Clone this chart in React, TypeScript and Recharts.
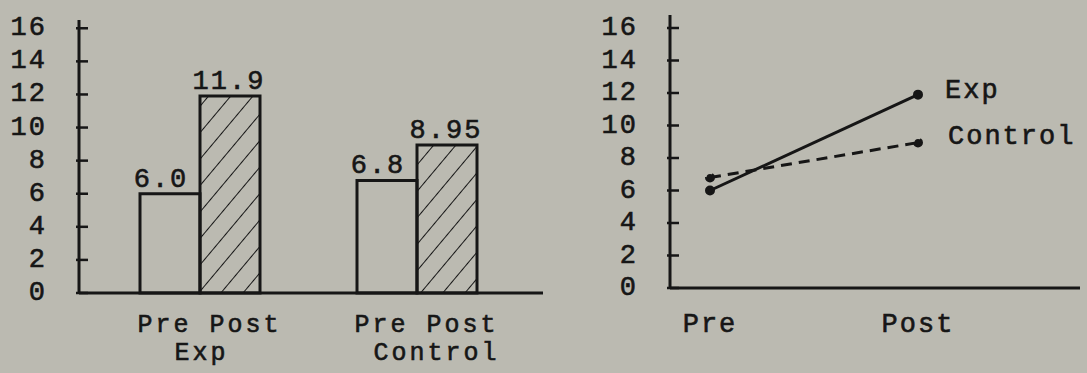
import { BarChart, Bar, LineChart, Line, XAxis, YAxis, LabelList } from "recharts";

const INK = "#161616";
const PAPER = "#bbbab1";
const FONT = "'Liberation Mono', 'DejaVu Sans Mono', monospace";

// left panel: pre/post means per group
const groups = ["Exp", "Control"];
const preScores = [6.0, 6.8];
const postScores = [11.9, 8.95];

// right panel: same means as lines
const phases = ["Pre", "Post"];
const expLine = [6.0, 11.9];
const controlLine = [6.8, 8.95];

const yTicks = [0, 2, 4, 6, 8, 10, 12, 14, 16];

const barData = groups.map((g, i) => ({ group: g, pre: preScores[i], post: postScores[i] }));
const lineData = phases.map((p, i) => ({ phase: p, exp: expLine[i], control: controlLine[i] }));

const TICK_GAP = 32;

const fmt = (v: number) => (v === Math.round(v) ? v.toFixed(1) : String(v));

const textStyle = {
  fontFamily: FONT,
  fontSize: 27,
  letterSpacing: 2,
  fill: INK,
  stroke: INK,
  strokeWidth: 0.6,
};
const smallText = { ...textStyle, fontSize: 25, letterSpacing: 3 };

function YTick(props: any) {
  const { x, y, payload } = props;
  const ax = x + TICK_GAP;
  return (
    <g>
      <line x1={ax - 3} x2={ax + 9} y1={y} y2={y} stroke={INK} strokeWidth={2.5} />
      <text x={x} y={y} textAnchor="end" dominantBaseline="central" style={textStyle}>
        {payload.value}
      </text>
    </g>
  );
}

function GroupTick(props: any) {
  const { x, y, payload } = props;
  return (
    <g>
      <text x={x + 10} y={y + 39} textAnchor="middle" style={smallText}>
        Pre Post
      </text>
      <text x={x + (payload.value === "Exp" ? 2 : 20)} y={y + 67} textAnchor="middle" style={smallText}>
        {payload.value}
      </text>
    </g>
  );
}

function PhaseTick(props: any) {
  const { x, y, payload } = props;
  return (
    <text x={x} y={y + 44} textAnchor="middle" style={textStyle}>
      {payload.value}
    </text>
  );
}

const barLabel = (dx: number) => (p: any) => (
  <text x={p.x + p.width / 2 + dx} y={p.y - 7} textAnchor="middle" style={textStyle}>
    {fmt(Number(p.value))}
  </text>
);

const endLabel = (name: string, dx: number, dy: number) => (p: any) =>
  p.index === 1 ? (
    <text x={p.x + dx} y={p.y + dy} dominantBaseline="central" style={textStyle}>
      {name}
    </text>
  ) : null;

export default function App() {
  return (
    <div style={{ position: "fixed", left: 0, top: 0, width: 1087, height: 373, background: PAPER }}>
      <div style={{ position: "absolute", left: 0, top: 0 }}>
        <BarChart
          width={560}
          height={373}
          data={barData}
          margin={{ top: 20, right: 17, bottom: 20, left: 7 }}
          barGap={0}
        >
          <defs>
            <pattern id="hatch" patternUnits="userSpaceOnUse" width={17} height={17} patternTransform="rotate(40)">
              <line x1={0} y1={0} x2={0} y2={17} stroke={INK} strokeWidth={2} />
            </pattern>
          </defs>
          <XAxis
            dataKey="group"
            height={60}
            padding={{ left: 12, right: 18 }}
            axisLine={{ stroke: INK, strokeWidth: 3 }}
            tickLine={false}
            tickSize={0}
            tickMargin={0}
            tick={<GroupTick />}
            interval={0}
          />
          <YAxis
            width={72}
            domain={[0, 16.5]}
            ticks={yTicks}
            interval={0}
            axisLine={{ stroke: INK, strokeWidth: 3 }}
            tickLine={false}
            tickSize={0}
            tickMargin={TICK_GAP}
            tick={<YTick />}
          />
          <Bar dataKey="pre" barSize={60} fill="none" stroke={INK} strokeWidth={3} isAnimationActive={false}>
            <LabelList dataKey="pre" content={barLabel(-9)} />
          </Bar>
          <Bar dataKey="post" barSize={60} fill="url(#hatch)" stroke={INK} strokeWidth={3} isAnimationActive={false}>
            <LabelList dataKey="post" content={barLabel(-1)} />
          </Bar>
        </BarChart>
      </div>
      <div style={{ position: "absolute", left: 560, top: 0 }}>
        <LineChart
          width={527}
          height={373}
          data={lineData}
          margin={{ top: 15, right: 7, bottom: 25, left: 38 }}
        >
          <XAxis
            dataKey="phase"
            height={60}
            padding={{ left: 40, right: 162 }}
            axisLine={{ stroke: INK, strokeWidth: 3 }}
            tickLine={false}
            tickSize={0}
            tickMargin={0}
            tick={<PhaseTick />}
            interval={0}
          />
          <YAxis
            width={72}
            domain={[0, 16.8]}
            ticks={yTicks}
            interval={0}
            axisLine={{ stroke: INK, strokeWidth: 3 }}
            tickLine={false}
            tickSize={0}
            tickMargin={TICK_GAP}
            tick={<YTick />}
          />
          <Line
            dataKey="control"
            stroke={INK}
            strokeWidth={3}
            strokeDasharray="11 7"
            dot={{ r: 3.5, fill: INK, stroke: INK }}
            isAnimationActive={false}
          >
            <LabelList dataKey="control" content={endLabel("Control", 30, -6)} />
          </Line>
          <Line
            dataKey="exp"
            stroke={INK}
            strokeWidth={3}
            dot={{ r: 3.5, fill: INK, stroke: INK }}
            isAnimationActive={false}
          >
            <LabelList dataKey="exp" content={endLabel("Exp", 27, -4)} />
          </Line>
        </LineChart>
      </div>
    </div>
  );
}
